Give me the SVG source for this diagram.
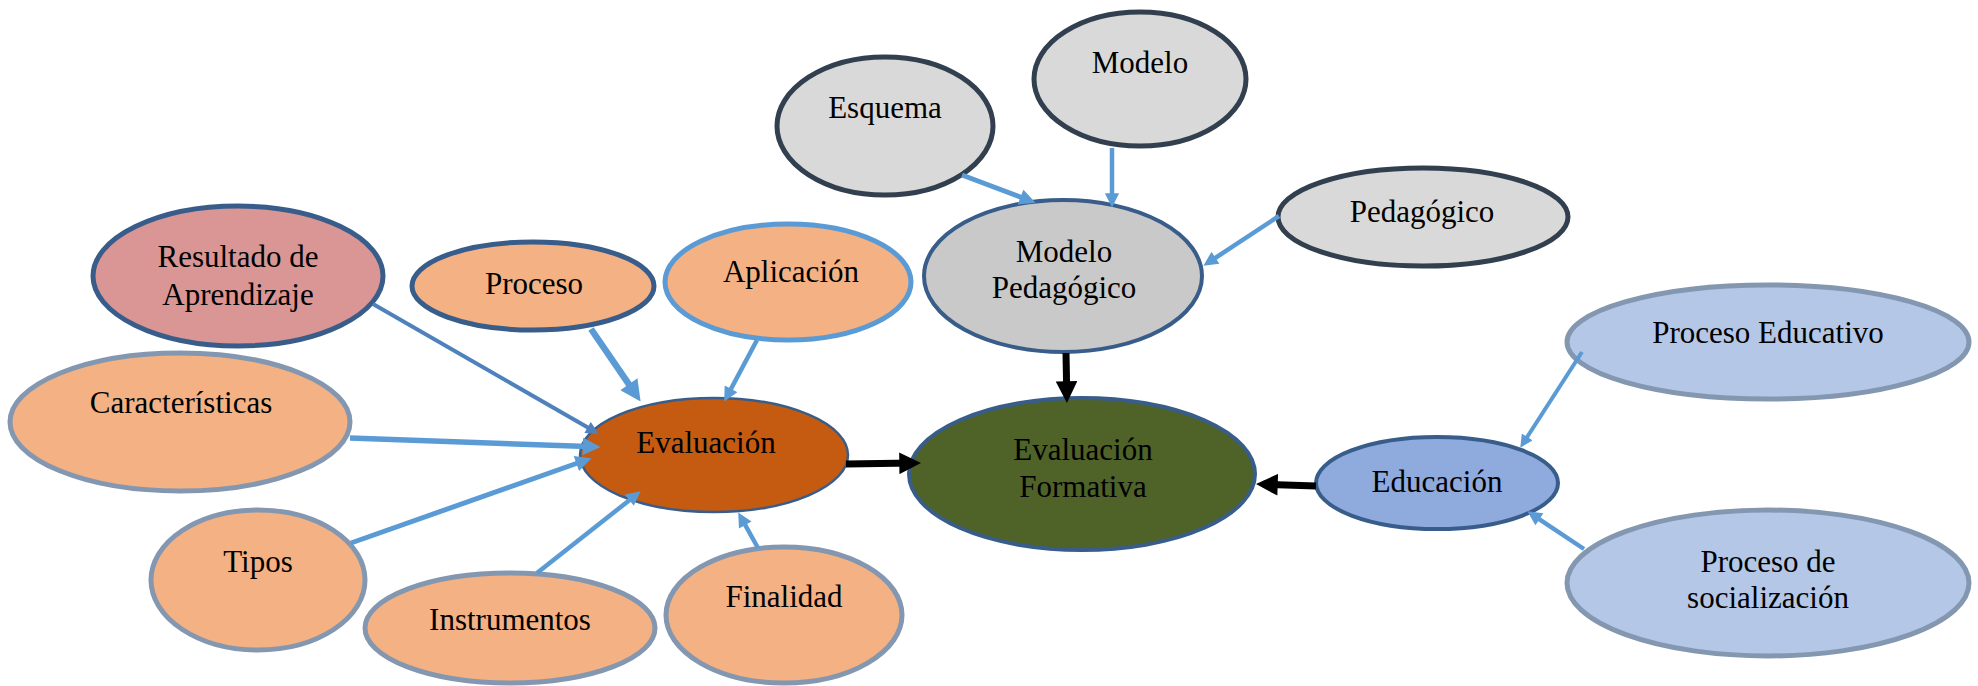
<svg xmlns="http://www.w3.org/2000/svg" width="1978" height="686" viewBox="0 0 1978 686">
<style>
text{font-family:"Liberation Serif","Times New Roman",serif;font-size:31px;fill:#000;text-anchor:middle}
.or{fill:#F4B183;stroke:#8497B0;stroke-width:5}
.gr{fill:#D9D9D9;stroke:#323F4F;stroke-width:5}
.lb{fill:#B4C7E7;stroke:#8497B0;stroke-width:5}
.c{fill:none;stroke:#5B9BD5;marker-end:url(#hb)}
.k{fill:none;stroke:#000;stroke-width:7;marker-end:url(#hk)}
</style>
<defs>
<marker id="hb" viewBox="0 0 10 10" refX="6.5" refY="5" markerWidth="3.5" markerHeight="3.2" orient="auto" markerUnits="strokeWidth"><path d="M0,0 L10,5 L0,10 z" fill="#5B9BD5"/></marker>
<marker id="hd" viewBox="0 0 10 10" refX="6.5" refY="5" markerWidth="3.5" markerHeight="3.2" orient="auto" markerUnits="strokeWidth"><path d="M0,0 L10,5 L0,10 z" fill="#4F81BD"/></marker>
<marker id="hk" viewBox="0 0 10 10" refX="6.5" refY="5" markerWidth="3.3" markerHeight="3.1" orient="auto" markerUnits="strokeWidth"><path d="M0,0 L10,5 L0,10 z" fill="#000"/></marker>
</defs>
<rect width="1978" height="686" fill="#fff"/>
<g id="esquema"><ellipse class="gr" cx="885" cy="126" rx="108" ry="69"/><text x="885" y="118">Esquema</text></g>
<g id="modelo"><ellipse class="gr" cx="1140" cy="79" rx="106" ry="67"/><text x="1140" y="73">Modelo</text></g>
<g id="pedagogico"><ellipse class="gr" cx="1423" cy="217" rx="145" ry="49"/><text x="1422" y="222">Pedagógico</text></g>
<g id="modelo-pedagogico"><ellipse cx="1063" cy="276" rx="139" ry="76" fill="#C9C9C9" stroke="#385D8A" stroke-width="4"/><text x="1064" y="262">Modelo</text><text x="1064" y="298">Pedagógico</text></g>
<g id="evaluacion-formativa"><ellipse cx="1082" cy="474" rx="173" ry="76" fill="#4F6228" stroke="#385D8A" stroke-width="4"/><text x="1083" y="460">Evaluación</text><text x="1083" y="497">Formativa</text></g>
<g id="educacion"><ellipse cx="1437" cy="483" rx="121" ry="46" fill="#8FAADC" stroke="#385D8A" stroke-width="4"/><text x="1437" y="492">Educación</text></g>
<g id="proceso-educativo"><ellipse class="lb" cx="1768" cy="342" rx="201" ry="57"/><text x="1768" y="343">Proceso Educativo</text></g>
<g id="proceso-socializacion"><ellipse class="lb" cx="1768" cy="583" rx="201" ry="73"/><text x="1768" y="572">Proceso de</text><text x="1768" y="608">socialización</text></g>
<g id="resultado"><ellipse cx="238" cy="276" rx="145" ry="70" fill="#D99694" stroke="#385D8A" stroke-width="5"/><text x="238" y="267">Resultado de</text><text x="238" y="305">Aprendizaje</text></g>
<g id="proceso"><ellipse class="or" cx="533" cy="286" rx="121" ry="44" style="stroke:#385D8A"/><text x="534" y="294">Proceso</text></g>
<g id="aplicacion"><ellipse class="or" cx="788" cy="282" rx="123" ry="58" style="stroke:#5B9BD5"/><text x="791" y="282">Aplicación</text></g>
<g id="caracteristicas"><ellipse class="or" cx="180" cy="422" rx="170" ry="69"/><text x="181" y="413">Características</text></g>
<g id="evaluacion"><ellipse cx="714" cy="455" rx="134" ry="57" fill="#C55A11" stroke="#385D8A" stroke-width="2.5"/><text x="706" y="453">Evaluación</text></g>
<g id="tipos"><ellipse class="or" cx="258" cy="580" rx="107" ry="70"/><text x="258" y="572">Tipos</text></g>
<g id="instrumentos"><ellipse class="or" cx="510" cy="628" rx="145" ry="55"/><text x="510" y="630">Instrumentos</text></g>
<g id="finalidad"><ellipse class="or" cx="784" cy="615" rx="118" ry="68"/><text x="784" y="607">Finalidad</text></g>
<g id="connectors">
<line class="c" stroke-width="5" x1="962" y1="175" x2="1030.3" y2="200.8"/>
<line class="c" stroke-width="4.5" x1="1112" y1="148" x2="1112" y2="202.5"/>
<line class="c" stroke-width="4.5" x1="1279" y1="216" x2="1207.6" y2="263"/>
<line class="k" x1="1066" y1="353" x2="1066.8" y2="395.4"/>
<line class="k" x1="1316" y1="486" x2="1263.6" y2="484.3"/>
<line class="k" x1="846" y1="464" x2="913.4" y2="463.1"/>
<line class="c" stroke-width="4" x1="1582" y1="352" x2="1522.7" y2="443.9"/>
<line class="c" stroke-width="4.5" x1="1584" y1="549" x2="1531.6" y2="514.1"/>
<line fill="none" stroke="#4F81BD" stroke-width="4" marker-end="url(#hd)" x1="373" y1="304" x2="594.8" y2="431.6"/>
<line class="c" stroke-width="6.5" x1="591" y1="329" x2="636.5" y2="395.4"/>
<line class="c" stroke-width="4.5" x1="757" y1="340" x2="726.6" y2="397.1"/>
<line class="c" stroke-width="5.5" x1="350" y1="438" x2="594.3" y2="446.8"/>
<line class="c" stroke-width="5" x1="351" y1="543" x2="586.2" y2="460"/>
<line class="c" stroke-width="4.5" x1="537" y1="573" x2="636.7" y2="494.4"/>
<line class="c" stroke-width="4.5" x1="758" y1="548" x2="740.7" y2="516.8"/>
</g>
</svg>
